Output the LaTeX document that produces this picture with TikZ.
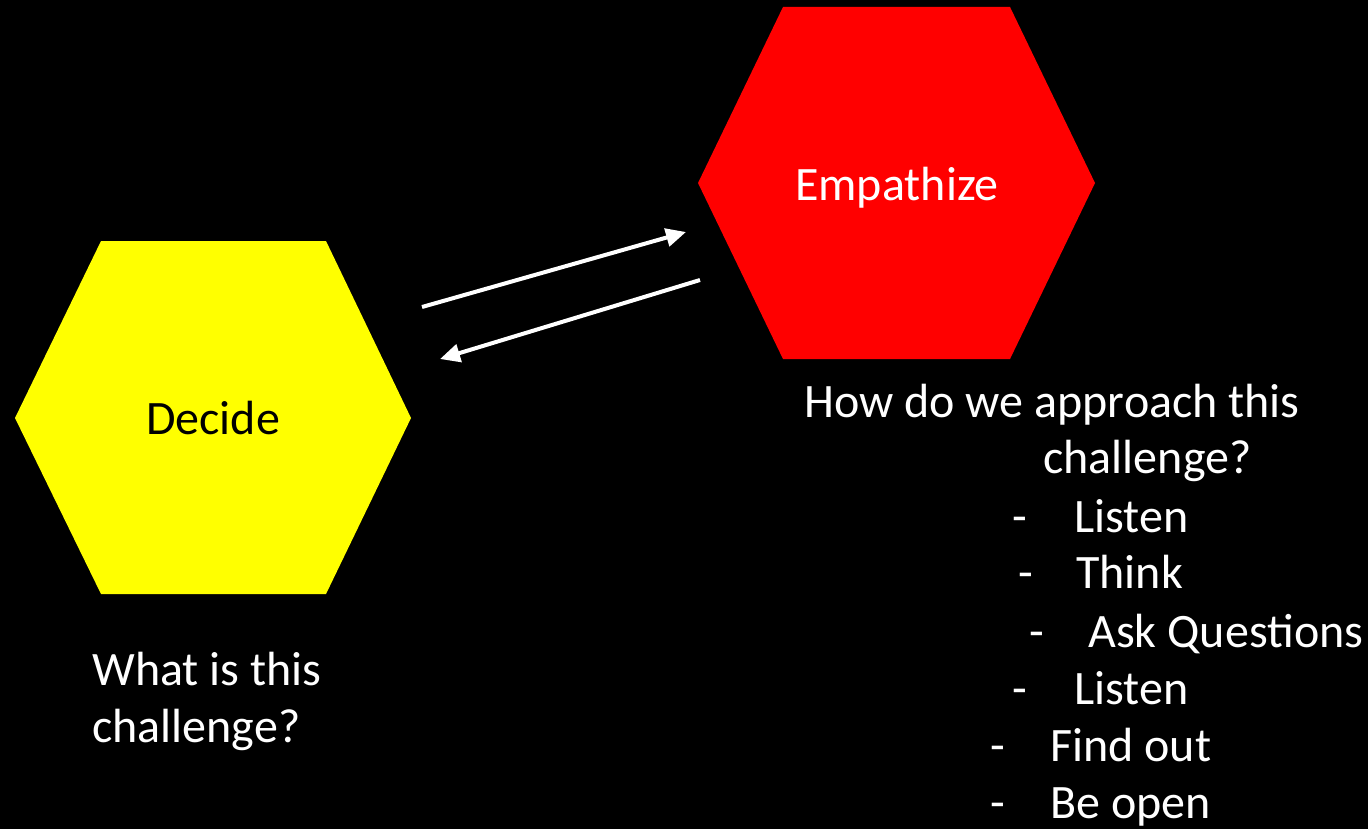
\documentclass[tikz,border=0pt]{standalone}
\usepackage{fontspec}
\setmainfont{Carlito}
\usetikzlibrary{arrows.meta}
\definecolor{hexyellow}{RGB}{255,255,0}
\definecolor{hexred}{RGB}{255,0,0}
\begin{document}
\begin{tikzpicture}[x=0.5pt,y=-0.5pt,
  txt/.style={inner sep=0pt,text=white,font=\fontsize{24}{28}\selectfont},
  hexlbl/.style={inner sep=0pt,font=\fontsize{24}{28}\selectfont},
  conn/.style={white,line width=2pt,-{Triangle[length=10pt,width=9pt]}}]
\fill[black] (0,0) rectangle (1368,829);
\useasboundingbox (0,0) rectangle (1368,829);
% hexagons
\fill[hexyellow] (15,418) -- (101,241) -- (326,241) -- (411,418) -- (326,594) -- (101,594) -- cycle;
\fill[hexred] (698,183) -- (783,7) -- (1010,7) -- (1095,183) -- (1010,359) -- (783,359) -- cycle;
\node[hexlbl,anchor=base,text=black] (decide) at (213,434) {Decide};
\node[hexlbl,anchor=base,text=white] (empath) at (897,200) {Empathize};
% connectors
\coordinate (a1s) at (422,307);
\coordinate (a1e) at (686,232);
\coordinate (a2s) at (700,280);
\coordinate (a2e) at (440,359);
\draw[conn] (a1s) -- (a1e);
\draw[conn] (a2s) -- (a2e);
% left text
\node[txt,anchor=base west] (w1) at (92,685) {What is this};
\node[txt,anchor=base west] (w2) at (92,742) {challenge?};
% right text
\node[txt,anchor=base west] (h1) at (804,417) {How do we approach this};
\node[txt,anchor=base west] (h2) at (1043,473) {challenge?};
\node[txt,anchor=base west] (d1) at (1012,532) {-};
\node[txt,anchor=base west] (l1) at (1074,532) {Listen};
\node[txt,anchor=base west] (d2) at (1018,588) {-};
\node[txt,anchor=base west] (l2) at (1076,588) {Think};
\node[txt,anchor=base west] (d3) at (1029,647) {-};
\node[txt,anchor=base west] (l3) at (1088,647) {Ask Questions};
\node[txt,anchor=base west] (d4) at (1012,704) {-};
\node[txt,anchor=base west] (l4) at (1074,704) {Listen};
\node[txt,anchor=base west] (d5) at (990,761) {-};
\node[txt,anchor=base west] (l5) at (1050,761) {Find out};
\node[txt,anchor=base west] (d6) at (990,818) {-};
\node[txt,anchor=base west] (l6) at (1050,818) {Be open};
\end{tikzpicture}
\end{document}
